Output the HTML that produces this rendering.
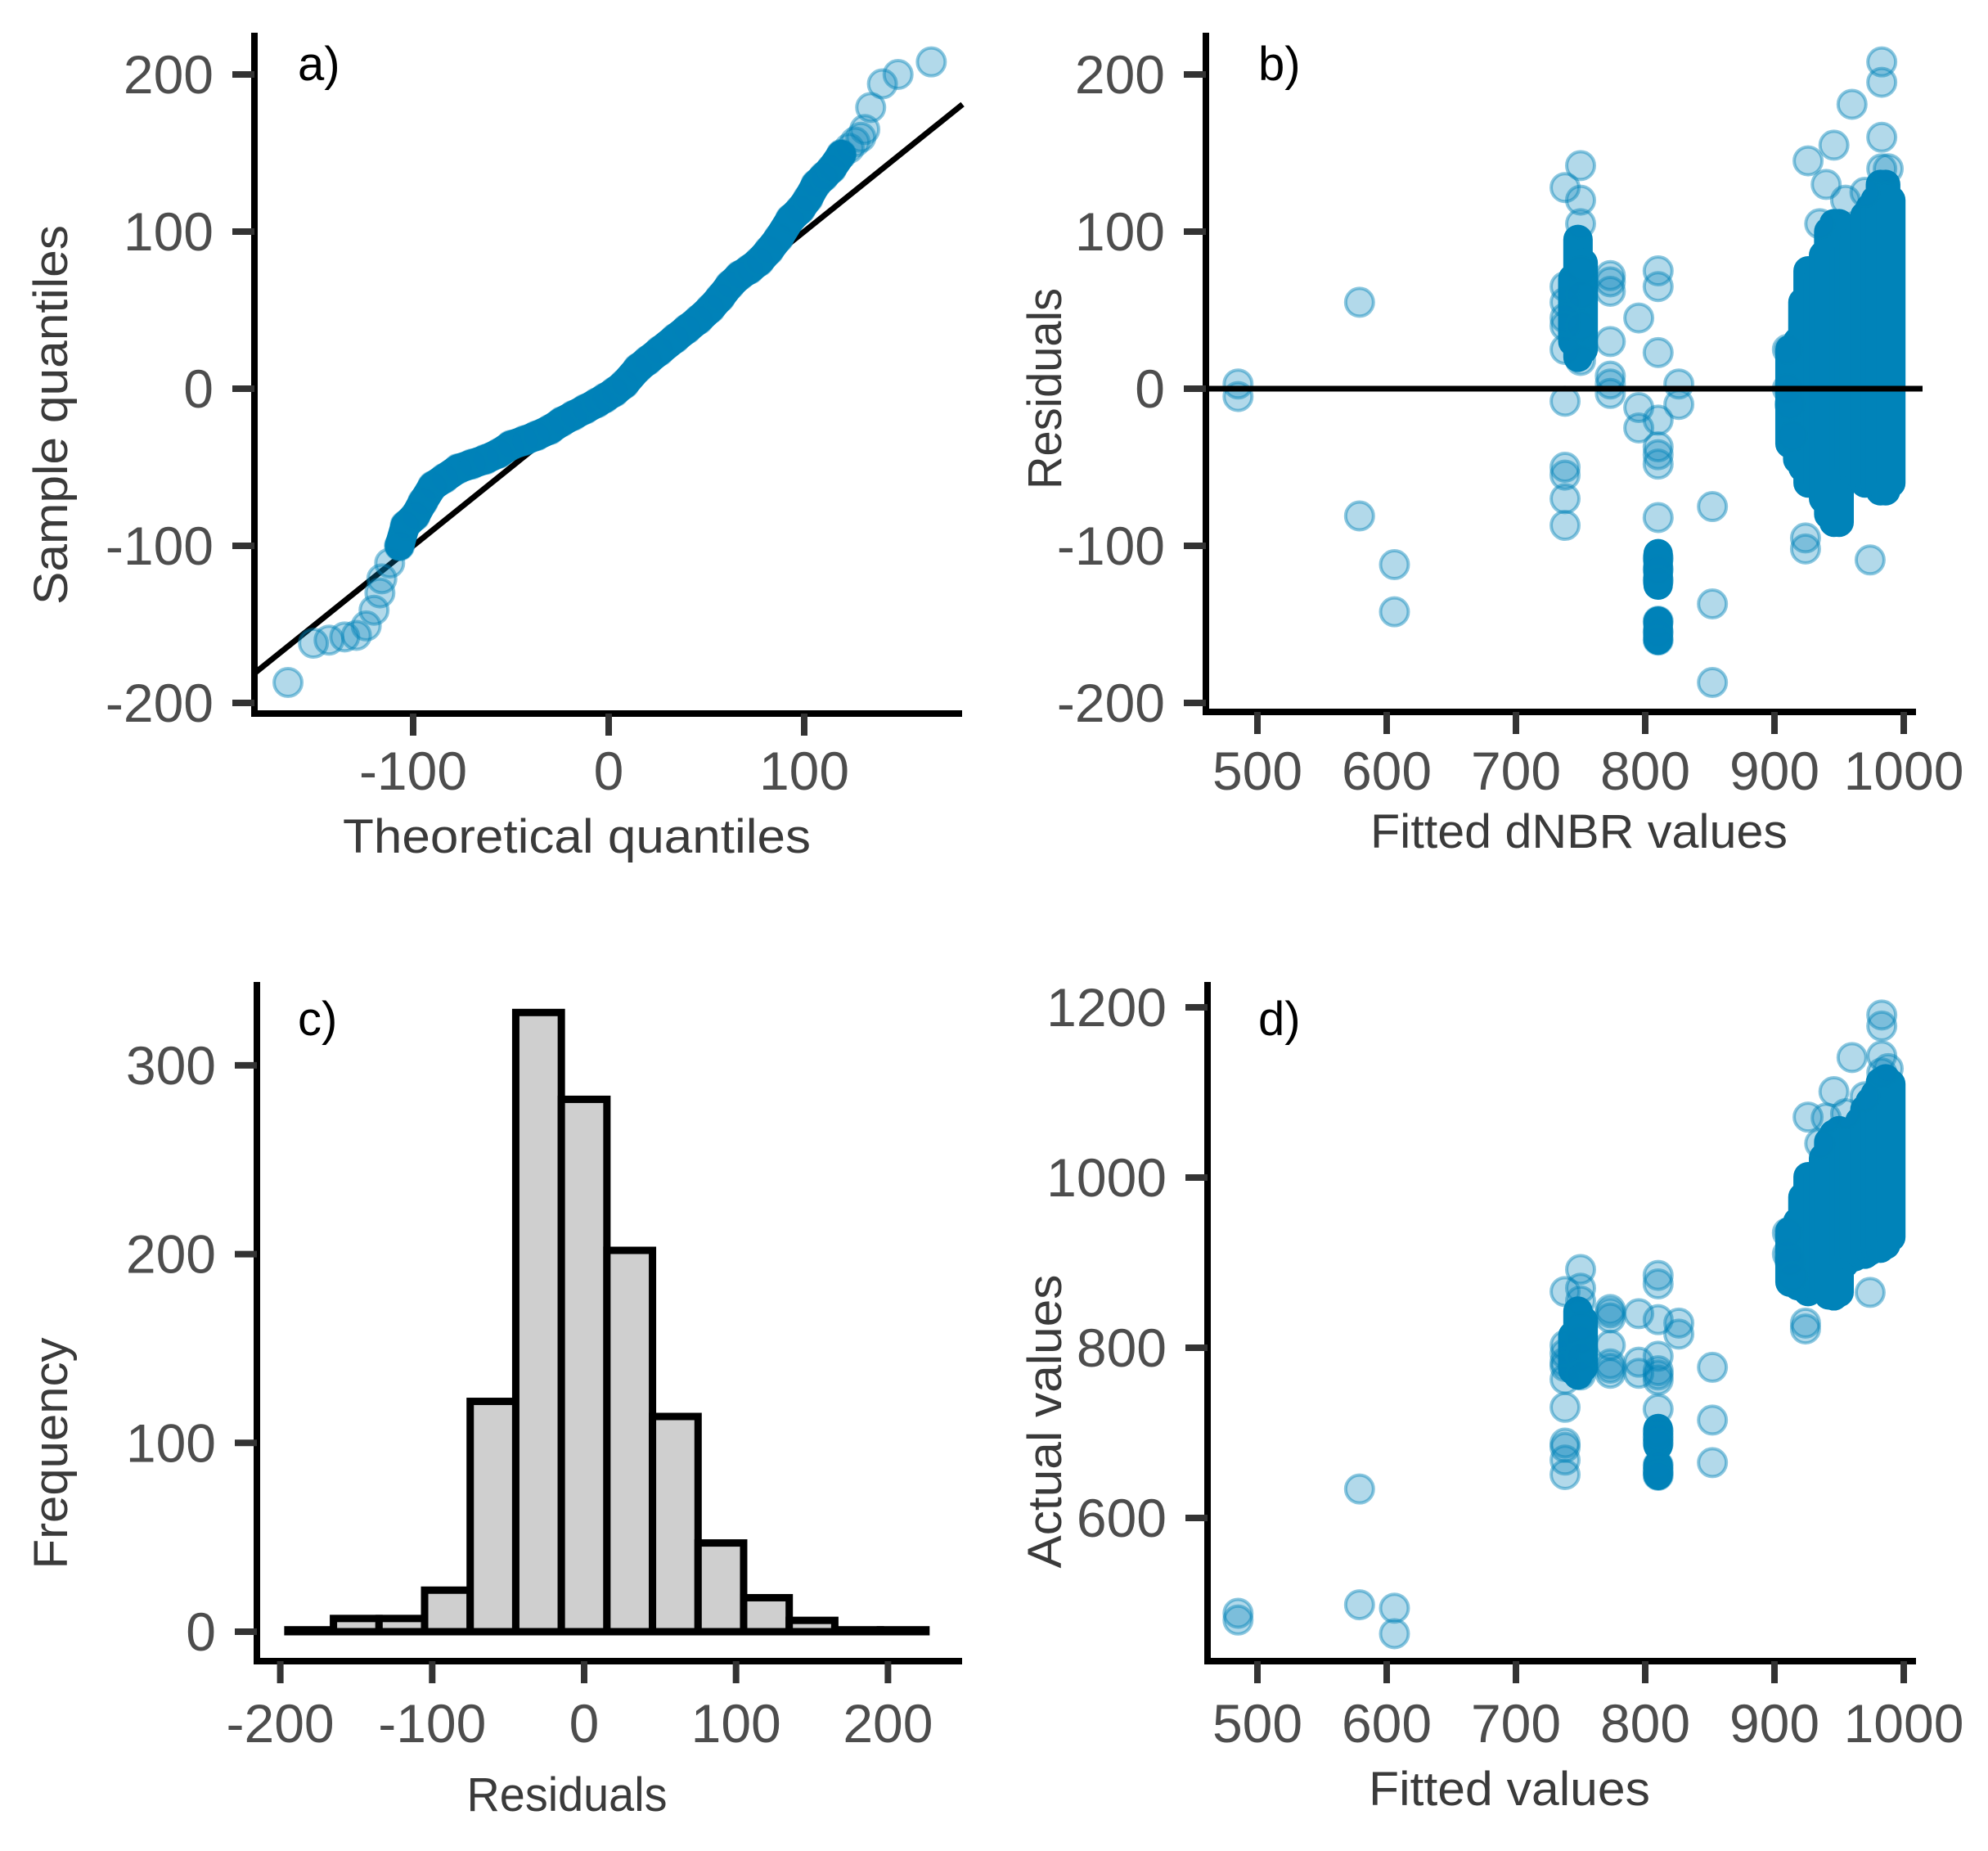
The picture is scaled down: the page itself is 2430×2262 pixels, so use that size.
<!DOCTYPE html>
<html><head><meta charset="utf-8"><style>
html,body{margin:0;padding:0;background:#fff}
svg{display:block}
.tk{font-family:"Liberation Sans",sans-serif;font-size:66px;fill:#4d4d4d}
.ttl{font-family:"Liberation Sans",sans-serif;font-size:58px;fill:#3a3a3a}
.pl{font-family:"Liberation Sans",sans-serif;font-size:58px;fill:#000}
</style></head><body>
<svg id="fig" width="2430" height="2262" viewBox="0 0 2430 2262" xmlns="http://www.w3.org/2000/svg"></svg>
<script>
// ---- Panel a: QQ plot data ----
const qqTheoretical = [-164,-151,-143,-135,-129,-124,-120,-117,-116,-112,-107,-104,-99,-95,-90,-84,-77,-70,-63,-56,-50,-43,-37,-30,-24,-18,-12,-6,-2,3,8,15,20,26,34,40,46,52,57,62,67,72,77,82,87,93,98,102,106,110,114,119,123,126,129,131,134,140,148,165];
const qqSample = [-187,-162,-160,-158,-157,-151,-141,-130,-121,-111,-100,-87,-81,-72,-62,-57,-51,-48,-45,-41,-36,-33,-30,-26,-21,-17,-13,-9,-6,-2,3,13,18,24,32,38,44,51,58,66,72,76,81,88,96,108,114,121,130,135,140,149,153,157,160,165,179,194,200,208];
const qqTicks = [-100,0,100];
const qqYTicks = [-200,-100,0,100,200];
// ---- Panel b / d: fitted & residuals ----
const fittedVals = [485,485,579,579,606,606,738,738,738,738,738,738,738,738,738,738,738,750,750,750,750,750,750,750,773,773,773,773,773,773,773,795,795,795,810,810,810,810,810,810,810,810,810,810,810,810,810,810,826,826,852,852,852,910,910,912,914,924,924,926,946,960,974,983,983,983,983,988,935,940,955,970];
const residVals = [3,-5,55,-81,-112,-142,128,65,55,45,40,25,-8,-50,-55,-70,-87,142,120,105,75,60,40,18,72,68,62,30,8,3,-3,45,-12,-25,75,65,23,-20,-37,-42,-48,-82,-108,-115,-122,-148,-155,-160,3,-10,-75,-137,-187,25,0,-10,-30,-102,-95,145,155,181,-109,208,195,160,140,140,105,130,120,125];
// dense clusters as vertical ranges
const bandX = [744,748,752,810,810,912,918,922,926,930,934,938,942,946,950,954,958,962,966,970,974,978,982,986,990];
const bandLo = [30,20,25,-160,-125,-35,-45,-50,-60,-55,-60,-70,-80,-85,-85,-55,-50,-55,-55,-60,-60,-60,-65,-65,-60];
const bandHi = [70,95,80,-148,-105,25,30,55,75,70,70,85,100,105,105,85,90,95,100,110,115,120,130,130,120];
const fitTicks = [500,600,700,800,900,1000];
const resTicks = [-200,-100,0,100,200];
const actTicks = [600,800,1000,1200];
// ---- Panel c: histogram ----
const binStart = [-195,-165,-135,-105,-75,-45,-15,15,45,75,105,135,165,195];
const binWidth = 30;
const binCounts = [1,7,7,22,122,328,282,202,114,47,18,6,1,1];
const histXTicks = [-200,-100,0,100,200];
const histYTicks = [0,100,200,300];

const NS="http://www.w3.org/2000/svg";
const svg=document.getElementById('fig');
function mk(tag,attrs,parent){const e=document.createElementNS(NS,tag);for(const k in attrs)e.setAttribute(k,attrs[k]);(parent||svg).appendChild(e);return e;}
const PT_FILL='rgba(0,130,185,0.3)', PT_STROKE='rgba(0,130,185,0.45)', R=17;

function axes(g,x0,x1,y0,yTop,name){
  const ya=mk('line',{x1:x0,y1:yTop,x2:x0,y2:y0+4,stroke:'#000','stroke-width':8},g);
  
  
  const xa=mk('line',{x1:x0-4,y1:y0,x2:x1,y2:y0,stroke:'#000','stroke-width':8},g);
  
  
}
function yTick(g,x0,y,label,name){
  const t=mk('line',{x1:x0-27,y1:y,x2:x0,y2:y,stroke:'#333','stroke-width':8},g);
  
  
  const tx=mk('text',{x:x0-50,y:y+23,'text-anchor':'end',class:'tk'},g);tx.textContent=label;
  
  
}
function xTick(g,x,y0,ly,label,name){
  const t=mk('line',{x1:x,y1:y0,x2:x,y2:y0+27,stroke:'#333','stroke-width':8},g);
  
  
  const tx=mk('text',{x:x,y:ly+23,'text-anchor':'middle',class:'tk'},g);tx.textContent=label;
  
  
}
function title(g,x,y,txt,len,rot,name){
  const t=mk('text',{x:x,y:y,'text-anchor':'middle',class:'ttl',textLength:len,lengthAdjust:'spacingAndGlyphs'},g);
  if(rot)t.setAttribute('transform','rotate(-90 '+x+' '+y+')');
  t.textContent=txt;
  
  
}
function plabel(g,x,y,txt,name){
  const t=mk('text',{x:x,y:y,class:'pl'},g);t.textContent=txt;
  
  
}
function dot(g,x,y,name){
  const c=mk('circle',{cx:x,cy:y,r:R,fill:PT_FILL,stroke:PT_STROKE,'stroke-width':4},g);
  
  
}
function band(g,x,ya,yb,name){
  const l=mk('line',{x1:x,y1:ya,x2:x,y2:yb,stroke:'rgb(0,131,185)','stroke-width':2*R+2,'stroke-linecap':'round'},g);
  
  
}

// ---------- Panel a ----------
(function(){
  const g=mk('g',{});
  const xS=v=>744+v*2.39, yS=v=>475-v*1.92;
  const ln=mk('line',{x1:xS(-181),y1:yS(-181),x2:xS(181),y2:yS(181),stroke:'#000','stroke-width':7},g);
  
  
  let d='';
  for(let i=10;i<qqTheoretical.length-8;i++){d+=(d?'L':'M')+xS(qqTheoretical[i])+' '+yS(qqSample[i]);}
  const core=mk('path',{d:d,fill:'none',stroke:'rgb(0,131,185)','stroke-width':2*R+2,'stroke-linecap':'round','stroke-linejoin':'round'},g);
  
  
  for(let i=0;i<qqTheoretical.length;i++)dot(g,xS(qqTheoretical[i]),yS(qqSample[i]),'qq-point');
  axes(g,311,1176,872,40,'panel-a');
  qqYTicks.forEach(v=>yTick(g,311,yS(v),String(v),'panel-a'));
  qqTicks.forEach(v=>xTick(g,xS(v),872,942,String(v),'panel-a'));
  title(g,705,1042,'Theoretical quantiles',572,false,'x-axis-title-a');
  title(g,82,507,'Sample quantiles',464,true,'y-axis-title-a');
  plabel(g,364,98,'a)','panel-label-a');
})();

// ---------- Panel b ----------
(function(){
  const g=mk('g',{});
  const xS=v=>1537+(v-500)*1.58, yS=v=>475-v*1.92;
  for(let i=0;i<bandX.length;i++)band(g,xS(bandX[i]),yS(bandLo[i]),yS(bandHi[i]),'residual-dense-band');
  for(let i=0;i<fittedVals.length;i++)dot(g,xS(fittedVals[i]),yS(residVals[i]),'residual-point');
  const z=mk('line',{x1:1474,y1:yS(0),x2:2350,y2:yS(0),stroke:'#000','stroke-width':7},g);
  
  
  axes(g,1474,2342,870,40,'panel-b');
  resTicks.forEach(v=>yTick(g,1474,yS(v),String(v),'panel-b'));
  fitTicks.forEach(v=>xTick(g,xS(v),870,942,String(v),'panel-b'));
  title(g,1930,1036,'Fitted dNBR values',510,false,'x-axis-title-b');
  title(g,1297,475,'Residuals',246,true,'y-axis-title-b');
  plabel(g,1538,98,'b)','panel-label-b');
})();

// ---------- Panel c ----------
(function(){
  const g=mk('g',{});
  const xS=v=>714+v*1.857, yS=v=>1994-v*2.307;
  for(let i=0;i<binCounts.length;i++){
    const x0=xS(binStart[i]),x1=xS(binStart[i]+binWidth);
    const r=mk('rect',{x:x0,y:yS(binCounts[i]),width:x1-x0,height:yS(0)-yS(binCounts[i]),fill:'#cfcfcf',stroke:'#000','stroke-width':9},g);
    
    
  }
  axes(g,314,1176,2030,1200,'panel-c');
  histYTicks.forEach(v=>yTick(g,314,yS(v),String(v),'panel-c'));
  histXTicks.forEach(v=>xTick(g,xS(v),2030,2106,String(v),'panel-c'));
  title(g,693,2213,'Residuals',245,false,'x-axis-title-c');
  title(g,82,1776,'Frequency',283,true,'y-axis-title-c');
  plabel(g,364,1265,'c)','panel-label-c');
})();

// ---------- Panel d ----------
(function(){
  const g=mk('g',{});
  const xS=v=>1537+(v-500)*1.58, yS=v=>1855-(v-600)*1.04;
  for(let i=0;i<bandX.length;i++)band(g,xS(bandX[i]),yS(bandX[i]+bandLo[i]),yS(bandX[i]+bandHi[i]),'actual-dense-band');
  for(let i=0;i<fittedVals.length;i++)dot(g,xS(fittedVals[i]),yS(fittedVals[i]+residVals[i]),'actual-point');
  axes(g,1476,2342,2030,1200,'panel-d');
  actTicks.forEach(v=>yTick(g,1476,yS(v),String(v),'panel-d'));
  fitTicks.forEach(v=>xTick(g,xS(v),2030,2106,String(v),'panel-d'));
  title(g,1845,2206,'Fitted values',344,false,'x-axis-title-d');
  title(g,1297,1737,'Actual values',359,true,'y-axis-title-d');
  plabel(g,1538,1265,'d)','panel-label-d');
})();
</script>
</body></html>
